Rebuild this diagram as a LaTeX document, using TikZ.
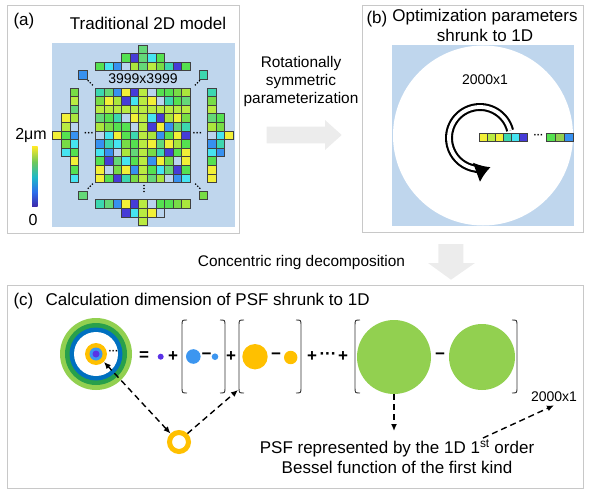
\documentclass[tikz,border=0pt]{standalone}
\usepackage{fontspec}
\setmainfont{Liberation Sans}
\usetikzlibrary{arrows.meta,positioning}

\definecolor{bgblue}{RGB}{191,214,237}
\definecolor{frame}{RGB}{200,200,200}
\definecolor{fatgray}{RGB}{236,236,236}
\definecolor{lgreen}{RGB}{146,208,80}
\definecolor{dgreen}{RGB}{40,160,75}
\definecolor{oblue}{RGB}{0,112,192}
\definecolor{gold}{RGB}{255,192,0}
\definecolor{sky}{RGB}{60,150,240}
\definecolor{violet}{RGB}{90,50,230}
% cell palette
\definecolor{pal0}{RGB}{242,240,55}
\definecolor{pal1}{RGB}{185,235,65}
\definecolor{pal2}{RGB}{85,225,80}
\definecolor{pal3}{RGB}{120,220,70}
\definecolor{pal4}{RGB}{70,228,240}
\definecolor{pal5}{RGB}{60,215,175}
\definecolor{pal6}{RGB}{55,145,240}
\definecolor{pal7}{RGB}{70,60,215}
\definecolor{pal8}{RGB}{185,212,238}
\definecolor{pal9}{RGB}{85,225,80}
\definecolor{pal10}{RGB}{170,230,60}
\definecolor{pal11}{RGB}{242,240,55}
\definecolor{pal12}{RGB}{100,215,120}
% colour bar
\definecolor{cbA}{RGB}{62,38,168}
\definecolor{cbB}{RGB}{45,110,235}
\definecolor{cbC}{RGB}{30,185,200}
\definecolor{cbD}{RGB}{110,200,90}
\definecolor{cbE}{RGB}{250,232,40}
\pgfdeclareverticalshading{parula}{100bp}{color(0bp)=(cbA); color(25bp)=(cbA); color(37.5bp)=(cbB); color(50bp)=(cbC); color(62.5bp)=(cbD); color(75bp)=(cbE); color(100bp)=(cbE)}

% one pixel of the 2D model
\newcommand{\pixcell}[2]{%
  \pgfmathtruncatemacro{\pcol}{mod(abs(7*(#1)+11*(#2)+3*(#1)*(#2)+5),13)}%
  \draw[pix,fill=pal\pcol] ({95.7+8.6*(#1)},{88+8.6*(#2)}) rectangle +(8.6,8.6);}
% three dots round (x,y), step (dx,dy)
\newcommand{\dotrow}[4]{%
  \foreach \s in {-1,0,1} \fill ({#1+\s*(#3)},{#2+\s*(#4)}) circle (0.9pt);}
% bracket at x, ends pointing by #2
\newcommand{\brak}[2]{%
  \draw[brk] ({#1+#2},320) .. controls (#1,320) .. (#1,326) -- (#1,387) .. controls (#1,393) .. ({#1+#2},393);}

\begin{document}
\begin{tikzpicture}[x=1pt,y=-1pt,
  title/.style={font=\fontsize{17}{20}\selectfont},
  body/.style={font=\fontsize{15.4}{18}\selectfont},
  num/.style={font=\fontsize{14}{16}\selectfont},
  pix/.style={draw=black!75,line width=0.6pt},
  panel/.style={draw=frame,line width=0.9pt},
  dot/.style={circle,inner sep=0pt,draw=none},
  op/.style={font=\bfseries\fontsize{17}{17}\selectfont,inner sep=0pt},
  ell/.style={font=\bfseries\fontsize{10}{10}\selectfont,inner sep=0pt},
  brk/.style={draw=black!80,line width=0.9pt},
  dasharr/.style={line width=1.4pt,dash pattern=on 6pt off 4pt}]
\useasboundingbox (0,0) rectangle (594,489);

% panels
\draw[panel] (7,5) rectangle (239,233);
\draw[panel] (362,5) rectangle (583,232);
\draw[panel] (7,285) rectangle (583,488);

% (a)
\node[title,anchor=base west] (labA) at (10,26) {(a)};
\node[title,anchor=base] (titA) at (148,29.5) {Traditional 2D model};
\fill[bgblue] (51.5,43) rectangle (234.5,227);
\foreach \i in {0,...,10} {
  \foreach \j in {0,...,10} {\pixcell{\i}{\j}}
  \pixcell{\i}{-3} \pixcell{\i}{13} \pixcell{-3}{\i} \pixcell{13}{\i}
}
\foreach \i in {3,...,7} {\pixcell{\i}{-4} \pixcell{\i}{14} \pixcell{-4}{\i} \pixcell{14}{\i}}
\foreach \i/\j in {5/-5,5/15,-5/5,15/5,-2/-2,12/-2,-2/12,12/12} {\pixcell{\i}{\j}}
\node[num,anchor=base] (dimA) at (143,84) {3999x3999};
\node[ell] (elL) at (89,134) {···};
\node[ell] (elR) at (197.5,134) {···};
\dotrow{144}{188.5}{0}{3}
\dotrow{90.3}{82.8}{2.1}{2.1}
\dotrow{197.4}{82.8}{-2.1}{2.1}
\dotrow{90.3}{186.2}{-2.1}{2.1}
\dotrow{197.7}{186.2}{2.1}{2.1}
% colour bar
\shade[shading=parula] (32,147) rectangle (37.5,207);
\node[font=\fontsize{16}{18}\selectfont,anchor=base] (cbTop) at (31,139.5) {2μm};
\node[font=\fontsize{16}{18}\selectfont,anchor=base] (cbBot) at (33,225.5) {0};

% between (a) and (b)
\node[body,anchor=base] (rot1) at (301,68) {Rotationally};
\node[body,anchor=base] (rot2) at (301,86) {symmetric};
\node[body,anchor=base] (rot3) at (301,103.5) {parameterization};
\fill[fatgray] (266.7,126.7) -- (325,126.7) -- (325,120) -- (341.7,135) -- (325,150) -- (325,143.3) -- (266.7,143.3) -- cycle;

% (b)
\node[title,anchor=base west] (labB) at (363,24) {(b)};
\node[title,anchor=base] (titB1) at (485,22) {Optimization parameters};
\node[title,anchor=base] (titB2) at (485,41.5) {shrunk to 1D};
\fill[bgblue] (392,45) rectangle (574,226);
\fill[white] (483,135.5) circle (90pt);
\node[num,anchor=base] (dimB) at (485,85) {2000x1};
\draw[line width=2.1pt,double=white,double distance=3.8pt,-{Latex[length=15pt,width=21pt]}]
  ([shift={(14:31pt)}]480,138) arc[start angle=14,end angle=290,radius=31pt];
\foreach \c [count=\n from 0] in {pal0,pal1,pal0,pal5,pal4,pal7}
  \draw[pix,fill=\c] ({479.3+8*\n},133) rectangle +(8,8);
\node[ell] (elB) at (538.5,136) {···};
\foreach \c [count=\n from 0] in {pal2,lgreen,pal6}
  \draw[pix,fill=\c] ({546.5+8.9*\n},133) rectangle +(8.9,8);

% between (b) and (c)
\node[body,anchor=base] (conc) at (301.5,266) {Concentric ring decomposition};
\fill[fatgray] (438.3,244) -- (463.3,244) -- (463.3,263) -- (475,263) -- (451,279.7) -- (428,263) -- (438.3,263) -- cycle;

% (c)
\node[title,anchor=base west] (labC) at (10,305) {(c)};
\node[title,anchor=base west] (titC) at (42,305) {Calculation dimension of PSF shrunk to 1D};
% concentric rings
\node[dot,minimum size=72,fill=lgreen] (cc) at (96,354) {};
\node[dot,minimum size=62,fill=dgreen] (cc1) at (96,354) {};
\node[dot,minimum size=53,fill=oblue] (cc2) at (96,354) {};
\node[dot,minimum size=44,fill=white] (cc3) at (96,354) {};
\node[dot,minimum size=22,fill=gold] (core) at (96,354) {};
\node[dot,minimum size=13,fill=sky] (cc5) at (96,354) {};
\node[dot,minimum size=7,fill=violet] (cc6) at (96,354) {};
\node[ell] (ccdots) at (113.5,352.5) {···};
% sum
\node[op] (eq) at (144,356) {=};
\node[dot,minimum size=6,fill=violet] (d0) at (160.7,356.7) {};
\node[op] (p1) at (173,357) {+};
\brak{182}{5}
\node[dot,minimum size=14.6,fill=sky] (b1) at (193.3,356.5) {};
\node[op] (m1) at (206.7,356.5) {−};
\node[dot,minimum size=6.6,fill=sky] (b2) at (215,356.7) {};
\brak{225}{-5}
\node[op] (p2) at (231,357) {+};
\brak{239}{5}
\node[dot,minimum size=25.4,fill=gold] (o1) at (255,356.7) {};
\node[op] (m2) at (276,356.5) {−};
\node[dot,minimum size=13.4,fill=gold] (o2) at (290.7,357.5) {};
\brak{301}{-5}
\node[op] (p3) at (312,357) {+};
\node[op] (dots) at (328,356) {···};
\node[op] (p4) at (343,357) {+};
\brak{355}{5}
\node[dot,minimum size=74,fill=lgreen] (gA) at (394,357) {};
\node[op] (m3) at (440,356.5) {−};
\node[dot,minimum size=66,fill=lgreen] (gB) at (482,357) {};
\brak{517}{-5}
% single ring
\node[dot,minimum size=19,draw=gold,line width=5pt] (ring) at (179,442) {};
\coordinate (br2) at (238,390);
\draw[dasharr,{Latex[length=7pt,width=6pt]}-{Latex[length=7pt,width=6pt]}] (ring.135) -- (core.-45);
\draw[dasharr,-{Latex[length=7pt,width=6pt]}] (ring.45) -- (br2);
% Bessel note
\coordinate (psfTop) at (394,431);
\draw[dasharr,-{Latex[length=7pt,width=6pt]}] (gA.south) -- (psfTop);
\node[title,anchor=base] (psf1) at (397,453.3) {PSF represented by the 1D 1\textsuperscript{st} order};
\node[title,anchor=base] (psf2) at (397,473.3) {Bessel function of the first kind};
\node[num,anchor=base] (dimC) at (554,401.7) {2000x1};
\coordinate (ordEnd) at (483,438);
\draw[dasharr,-{Latex[length=7pt,width=6pt]}] (ordEnd) -- (dimC.south);
\end{tikzpicture}
\end{document}
